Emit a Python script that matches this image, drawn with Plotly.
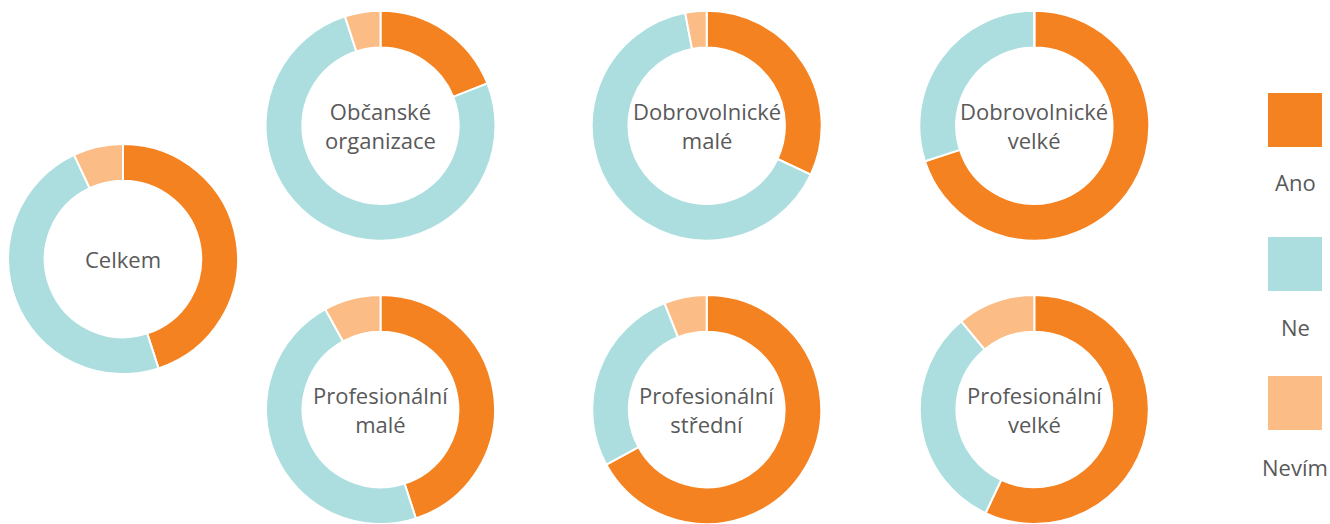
import plotly.graph_objects as go

# Answer categories and their colours
answers = ["Ano", "Ne", "Nevím"]
colors = ["#F58220", "#ACDEDF", "#FBBC85"]

# Groups (centre labels) and shares in % for Ano / Ne / Nevím
groups = [
    "Celkem",
    "Občanské<br>organizace",
    "Dobrovolnické<br>malé",
    "Dobrovolnické<br>velké",
    "Profesionální<br>malé",
    "Profesionální<br>střední",
    "Profesionální<br>velké",
]
ano = [45, 19, 32, 70, 45, 67, 57]
ne = [48, 76, 65, 30, 47, 27, 32]
nevim = [7, 5, 3, 0, 8, 6, 11]

W, H = 1330, 524
R = 115
# ring centres in pixels (x from left, y from top)
centers = [
    (123, 259),
    (380.5, 125.7), (706.7, 125.7), (1034.3, 125.7),
    (380.5, 410), (706.7, 410), (1034.3, 410),
]

FONT = "Open Sans, Noto Sans, sans-serif"
TEXT_COLOR = "#595959"

fig = go.Figure()
annotations = []
for i, g in enumerate(groups):
    cx, cy = centers[i]
    x0, x1 = (cx - R) / W, (cx + R) / W
    y0, y1 = (H - cy - R) / H, (H - cy + R) / H
    y0, y1 = max(0.0, y0), min(1.0, y1)
    fig.add_trace(go.Pie(
        labels=answers,
        values=[ano[i], ne[i], nevim[i]],
        marker=dict(colors=colors, line=dict(color="white", width=2)),
        hole=0.68,
        sort=False,
        direction="clockwise",
        rotation=0,
        textinfo="none",
        hoverinfo="label+percent",
        domain=dict(x=[x0, x1], y=[y0, y1]),
        showlegend=False,
    ))
    annotations.append(dict(
        x=(x0 + x1) / 2, y=(y0 + y1) / 2, xref="paper", yref="paper",
        xanchor="center", yanchor="middle",
        text=g, showarrow=False, align="center",
        font=dict(family=FONT, size=22, color=TEXT_COLOR),
    ))

# Custom legend: large swatches with labels underneath
shapes = []
legend_top = [93, 237, 376]
label_y = [182, 327, 467]
for k, name in enumerate(answers):
    top = legend_top[k]
    shapes.append(dict(
        type="rect", xref="paper", yref="paper",
        x0=1268 / W, x1=1322 / W,
        y0=(H - top - 54) / H, y1=(H - top) / H,
        fillcolor=colors[k], line=dict(width=0),
    ))
    annotations.append(dict(
        x=1295 / W, y=(H - label_y[k]) / H, xref="paper", yref="paper",
        xanchor="center", yanchor="middle",
        text=name, showarrow=False,
        font=dict(family=FONT, size=22, color=TEXT_COLOR),
    ))

fig.update_layout(
    width=W, height=H,
    margin=dict(l=0, r=0, t=0, b=0),
    paper_bgcolor="white",
    plot_bgcolor="white",
    shapes=shapes,
    annotations=annotations,
)

fig.write_html("out.html")
